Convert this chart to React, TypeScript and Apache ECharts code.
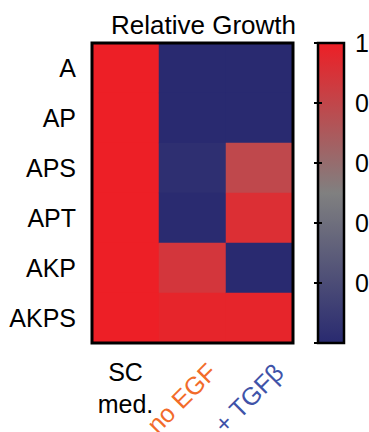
import React, { useEffect, useRef } from "react";
import * as echarts from "echarts";

const rowLabels = ["A", "AP", "APS", "APT", "AKP", "AKPS"];
const colLabels = ["SC\nmed.", "no EGF", "+ TGFβ"];
const colLabelColors = ["#000000", "#F26B2A", "#4053A8"];
const scMed = [1, 1, 1, 1, 1, 1];
const noEGF = [0.0, 0.0, 0.03, 0.005, 0.88, 0.97];
const plusTGFb = [0.0, 0.0, 0.79, 0.92, 0.0, 0.97];

const FONT = "'Liberation Sans', Arial, Helvetica, sans-serif";
const BLUE = "#292A70";
const GRAY = "#808080";
const RED = "#ED1F26";

export default function App() {
  const ref = useRef<HTMLDivElement>(null);
  useEffect(() => {
    if (!ref.current) return;
    const chart = echarts.init(ref.current, undefined, { renderer: "svg" });
    const columns = [scMed, noEGF, plusTGFb];
    const data: number[][] = [];
    columns.forEach((col, ci) => {
      col.forEach((v, ri) => data.push([ci, ri, v]));
    });
    const rotatedLabelStyle = {
      align: "center",
      verticalAlign: "bottom",
      padding: [0, 0, 3, 0],
      fontSize: 25,
      fontFamily: FONT,
    };
    const option: any = {
      animation: false,
      title: {
        text: "Relative Growth",
        left: 106,
        top: 7,
        textStyle: { fontSize: 26, fontWeight: "normal", color: "#000", fontFamily: FONT },
      },
      visualMap: {
        show: false,
        type: "continuous",
        min: 0,
        max: 1,
        seriesIndex: 0,
        inRange: { color: [BLUE, GRAY, RED] },
      },
      grid: [
        {
          left: 92,
          top: 43,
          width: 201,
          height: 300,
          outerBoundsMode: "none",
          containLabel: false,
          show: true,
          backgroundColor: "transparent",
          borderColor: "#000",
          borderWidth: 3,
          z: 10,
        },
        {
          left: 318,
          top: 43,
          width: 26,
          height: 300,
          outerBoundsMode: "none",
          containLabel: false,
          show: true,
          borderColor: "#000",
          borderWidth: 2.5,
          z: -1,
          backgroundColor: new echarts.graphic.LinearGradient(0, 0, 0, 1, [
            { offset: 0, color: RED },
            { offset: 0.5, color: GRAY },
            { offset: 1, color: BLUE },
          ]),
        },
      ],
      xAxis: [
        {
          type: "category",
          gridIndex: 0,
          data: colLabels,
          position: "bottom",
          axisLine: { show: false },
          axisTick: { show: false },
          splitLine: { show: false },
          axisLabel: {
            interval: 0,
            margin: 13,
            verticalAlign: "top",
            fontSize: 25,
            lineHeight: 32,
            fontFamily: FONT,
            color: "#000",
            formatter: (v: string, i: number) => (i === 0 ? v : ""),
          },
        },
        {
          type: "category",
          gridIndex: 0,
          data: colLabels.map((c, i) => ({
            value: c,
            textStyle: { ...rotatedLabelStyle, color: colLabelColors[i] },
          })),
          position: "bottom",
          axisLine: { show: false },
          axisTick: { show: false },
          splitLine: { show: false },
          axisLabel: {
            interval: 0,
            rotate: 45,
            margin: 66,
            ...rotatedLabelStyle,
            formatter: (v: string, i: number) => (i === 0 ? "" : v),
          },
        },
        { type: "value", gridIndex: 1, show: false, min: 0, max: 1 },
      ],
      yAxis: [
        {
          type: "category",
          gridIndex: 0,
          data: rowLabels,
          inverse: true,
          axisLine: { show: false },
          axisTick: { show: false },
          splitLine: { show: false },
          axisLabel: {
            interval: 0,
            margin: 16,
            fontSize: 25,
            color: "#000",
            fontFamily: FONT,
            padding: [0, 0, 8, 0],
          },
        },
        {
          type: "value",
          gridIndex: 1,
          position: "right",
          min: 0,
          max: 1,
          interval: 0.2,
          axisLine: { show: false },
          splitLine: { show: false },
          axisTick: { show: true, inside: true, length: 4, lineStyle: { color: "#000", width: 2 } },
          axisLabel: {
            margin: 11,
            fontSize: 25,
            color: "#000",
            fontFamily: FONT,
            padding: [8, 0, 0, 0],
            formatter: (v: number) => (v === 0 ? "" : String(Math.round(v * 10) / 10)),
          },
        },
        {
          type: "value",
          gridIndex: 1,
          position: "left",
          min: 0,
          max: 1,
          interval: 0.2,
          axisLine: { show: false },
          splitLine: { show: false },
          axisTick: { show: true, inside: true, length: 4, lineStyle: { color: "#000", width: 2 } },
          axisLabel: { show: false },
        },
      ],
      series: [
        {
          type: "heatmap",
          xAxisIndex: 0,
          yAxisIndex: 0,
          data,
          itemStyle: { borderWidth: 0 },
          emphasis: { disabled: true },
        },
      ],
    };
    chart.setOption(option);
    return () => chart.dispose();
  }, []);
  return (
    <div
      ref={ref}
      style={{ position: "fixed", left: 0, top: 0, width: 369, height: 432, background: "#fff" }}
    />
  );
}
